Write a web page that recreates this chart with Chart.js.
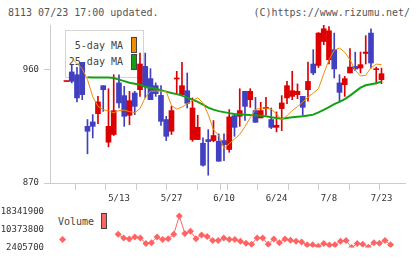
<!DOCTYPE html>
<html>
<head>
<meta charset="utf-8">
<script src="https://cdn.jsdelivr.net/npm/chart.js@4.4.1/dist/chart.umd.min.js"></script>
<style>
  html, body { margin: 0; padding: 0; background: #fff; }
  #wrap { position: relative; width: 420px; height: 259px; overflow: hidden;
          font-family: "DejaVu Sans Mono", monospace; color: #555; }
  .txt { position: absolute; font-size: 10px; line-height: 12px; white-space: pre; }
  .box { position: absolute; left: 65px; top: 30px; width: 77px; height: 46px;
         border: 1px solid #d4d4d4; background: #fff; }
  .sw { position: absolute; width: 4px; height: 14px; border: 1px solid #444; }
  canvas { position: absolute; left: 0; }
</style>
</head>
<body>
<div id="wrap">
  <div class="txt" style="left:8px; top:7px;">8113 07/23 17:00 updated.</div>
  <div class="txt" style="right:10px; top:7px;">(C)https://www.rizumu.net/</div>

  <!-- price legend sits under the canvas, candles paint over it -->
  <div class="box"></div>
  <div class="txt" style="right:297px; top:40px; color:#444;">5-day MA</div>
  <div class="txt" style="right:297px; top:56px; color:#444;">25-day MA</div>
  <div class="sw" style="left:131px; top:37px; background:#f28c00;"></div>
  <div class="sw" style="left:131px; top:54px; background:#14a014;"></div>

  <div class="txt" style="left:58px; top:216px; color:#444;">Volume</div>
  <div class="sw" style="left:101px; top:213px; background:#ff6464;"></div>

  <canvas id="price" width="420" height="205" style="top:0;"></canvas>
  <canvas id="vol" width="420" height="59" style="top:200px;"></canvas>
</div>
<script>
// trading days shown (2024)
const dates = [
  '4/24','4/25','4/26','4/30','5/1','5/2','5/7','5/8','5/9','5/10',
  '5/13','5/14','5/15','5/16','5/17','5/20','5/21','5/22','5/23','5/24',
  '5/27','5/28','5/29','5/30','5/31','6/3','6/4','6/5','6/6','6/7',
  '6/10','6/11','6/12','6/13','6/14','6/17','6/18','6/19','6/20','6/21',
  '6/24','6/25','6/26','6/27','6/28','7/1','7/2','7/3','7/4','7/5',
  '7/8','7/9','7/10','7/11','7/12','7/16','7/17','7/18','7/19','7/22','7/23'
];
const tickDates = ['5/13','5/27','6/10','6/24','7/8','7/23'];

const opens = [
  950.6, 958.2, 956.0, 965.8, 915.0, 918.5, 925.1, 947.3, 902.4, 908.5,
  949.5, 939.4, 923.8, 941.5, 944.1, 962.6, 952.9, 947.3, 939.6, 920.4,
  911.1, 952.6, 940.2, 943.3, 904.5, 904.5, 901.6, 904.5, 903.7, 903.1,
  903.7, 896.6, 923.5, 923.0, 942.8, 936.2, 927.5, 921.7, 929.1, 920.4,
  914.2, 929.1, 937.6, 938.8, 940.2, 938.8, 944.1, 964.5, 963.4, 982.4,
  967.9, 975.9, 949.5, 948.1, 957.4, 962.6, 961.3, 972.9, 989.1, 960.0, 952.1
];
const highs = [
  950.6, 964.0, 961.8, 965.8, 920.4, 924.3, 938.8, 947.3, 944.9, 956.0,
  956.0, 946.8, 942.8, 942.8, 973.1, 973.2, 960.8, 949.5, 947.3, 923.0,
  930.9, 958.7, 965.8, 957.4, 937.6, 923.8, 905.8, 912.4, 919.6, 909.0,
  909.0, 928.3, 924.9, 944.9, 942.8, 944.9, 938.0, 934.1, 938.0, 929.6,
  926.5, 939.4, 950.7, 958.7, 948.7, 938.8, 966.1, 975.9, 989.5, 995.3,
  994.3, 989.1, 956.0, 954.7, 976.7, 974.0, 974.0, 987.0, 992.5, 962.1, 961.3
];
const lows = [
  950.6, 949.5, 934.4, 936.2, 893.2, 905.8, 917.2, 926.9, 898.7, 907.7,
  929.6, 915.0, 916.4, 924.3, 938.8, 937.6, 936.2, 938.8, 915.8, 903.7,
  908.5, 940.2, 940.2, 929.6, 903.1, 904.5, 883.3, 876.2, 902.7, 887.3,
  887.8, 894.4, 907.1, 915.0, 919.8, 930.1, 918.2, 921.7, 923.8, 913.2,
  910.6, 911.6, 933.0, 936.2, 937.0, 923.8, 934.9, 956.0, 961.8, 979.8,
  964.5, 953.4, 934.4, 938.8, 957.4, 959.2, 957.4, 964.5, 961.3, 948.7, 948.9
];
const closes = [
  950.6, 950.7, 937.6, 940.2, 911.1, 915.0, 934.4, 944.1, 915.0, 927.5,
  933.6, 923.0, 935.4, 930.9, 964.5, 946.8, 936.2, 941.0, 919.0, 907.1,
  927.5, 952.9, 947.3, 933.3, 929.6, 914.2, 884.1, 902.9, 907.7, 887.3,
  900.5, 922.5, 914.2, 927.5, 930.9, 942.8, 918.2, 927.5, 930.1, 914.2,
  915.8, 933.6, 947.3, 943.3, 942.8, 930.1, 950.7, 957.4, 989.1, 992.5,
  990.9, 960.6, 942.0, 952.9, 962.1, 960.6, 964.0, 974.0, 965.3, 960.5, 956.8
];
const ma5 = [
  null, 969.1, 964.8, 960.8, 952.1, 938.6, 930.9, 928.3, 927.1, 925.9,
  927.5, 927.9, 926.7, 925.9, 929.1, 937.8, 943.0, 943.0, 943.0, 942.6,
  931.5, 928.7, 930.3, 933.0, 935.4, 937.6, 933.8, 924.3, 912.4, 907.7,
  897.4, 901.3, 904.9, 908.5, 914.8, 921.9, 928.3, 929.6, 929.5, 928.7,
  924.9, 920.4, 923.5, 927.5, 930.7, 934.2, 938.2, 941.4, 944.9, 956.8,
  967.9, 975.5, 977.2, 973.9, 967.9, 959.6, 955.0, 955.5, 961.6, 964.4, 964.0
];
const ma25 = [
  null, null, null, null, 953.9, 953.8, 953.7, 953.7, 953.7, 953.4,
  952.1, 950.9, 949.7, 948.9, 948.1, 946.3, 945.7, 944.9, 943.7, 942.6,
  941.5, 940.6, 939.4, 937.8, 936.2, 934.4, 932.2, 929.9, 928.3, 927.1,
  926.3, 925.5, 924.9, 924.6, 924.3, 924.0, 923.8, 923.4, 923.0, 922.3,
  921.7, 921.0, 921.7, 922.2, 922.6, 923.0, 923.7, 924.3, 926.1, 928.1,
  930.3, 932.6, 934.5, 936.6, 939.4, 942.6, 945.7, 947.6, 948.5, 949.3, 950.5
];
const volume = [
  null, 5920000, null, null, null, null, null, null, null, null,
  null, 8230000, 6610000, 6210000, 7020000, 6610000, 4190000, 4590000, 7020000, 5920000,
  6330000, 8230000, 16320000, 8640000, 9570000, 6330000, 7950000, 7260000, 5520000, 5520000,
  6610000, 5920000, 5920000, 5240000, 4310000, 3900000, 6610000, 6610000, 3900000, 6210000,
  4590000, 6210000, 5640000, 5240000, 4830000, 3620000, 3620000, 2970000, 4190000, 3500000,
  3620000, 5240000, 5520000, 2450000, 4190000, 3900000, 2570000, 4590000, 4310000, 5520000, 3620000
];
const priceTicks = [870, 960];
const volumeTicks = [2405700, 10373800, 18341900];

Chart.defaults.font.family = '"DejaVu Sans Mono", monospace';
Chart.defaults.font.size = 9;
Chart.defaults.color = '#333';

const UP = '#dc0000', DOWN = '#4040c0';
const AXIS = '#cccccc';
const xMin = -1.26, xMax = 62.6;
const colors = opens.map((o, i) => closes[i] >= o ? UP : DOWN);
const pts = arr => arr.map((v, i) => ({ x: i, y: v }));

new Chart(document.getElementById('price'), {
  type: 'bar',
  data: {
    datasets: [
      { type: 'line', data: pts(ma5), borderColor: '#f28c00', borderWidth: 1,
        pointRadius: 0, tension: 0, order: 0 },
      { type: 'line', data: pts(ma25), borderColor: '#14a014', borderWidth: 2,
        pointRadius: 0, tension: 0, order: 1 },
      { data: dates.map((d, i) => ({ x: i, y: [opens[i], closes[i]] })),
        backgroundColor: colors, barThickness: 5, minBarLength: 1,
        grouped: false, order: 2 },
      { data: dates.map((d, i) => ({ x: i, y: [lows[i], highs[i]] })),
        backgroundColor: colors, barThickness: 1, grouped: false, order: 3 }
    ]
  },
  options: {
    responsive: false, animation: false, devicePixelRatio: 1,
    layout: { autoPadding: false, padding: { top: 25, right: 15, left: 0, bottom: 0 } },
    plugins: { legend: { display: false }, tooltip: { enabled: false } },
    scales: {
      x: {
        type: 'linear', min: xMin, max: xMax,
        afterBuildTicks: s => {
          const labs = tickDates.map(d => ({ value: dates.indexOf(d), lab: d }));
          const marks = [];
          for (let k = 0; k <= 11; k++) marks.push({ value: xMin + k * (xMax - xMin) / 11 });
          s.ticks = labs.concat(marks);
        },
        afterFit: s => { s.height = 22; },
        ticks: { autoSkip: false, maxRotation: 0, padding: 3,
                 callback: (v, i, t) => t[i].lab || '' },
        grid: { drawOnChartArea: false, tickLength: 7,
                tickColor: c => (c.tick && c.tick.lab) ? 'rgba(0,0,0,0)' : AXIS },
        border: { color: AXIS }
      },
      y: {
        min: 870, max: 995.5,
        afterBuildTicks: s => { s.ticks = priceTicks.map(v => ({ value: v })); },
        afterFit: s => { s.width = 50; },
        ticks: { padding: 5, callback: v => String(v) },
        grid: { drawOnChartArea: false, tickLength: 6, color: AXIS },
        border: { color: AXIS }
      }
    }
  }
});

new Chart(document.getElementById('vol'), {
  type: 'line',
  data: {
    datasets: [{
      data: pts(volume), borderColor: '#ff6464', borderWidth: 1,
      pointStyle: 'rectRot', pointRadius: 3.5, pointBorderWidth: 0,
      pointBackgroundColor: '#ff6464', tension: 0, spanGaps: false
    }]
  },
  options: {
    responsive: false, animation: false, devicePixelRatio: 1,
    layout: { autoPadding: false, padding: { top: 9, right: 15, left: 0, bottom: 10 } },
    plugins: { legend: { display: false }, tooltip: { enabled: false } },
    scales: {
      x: { type: 'linear', min: xMin, max: xMax, display: false },
      y: {
        min: volumeTicks[0], max: volumeTicks[2],
        afterBuildTicks: s => { s.ticks = volumeTicks.map(v => ({ value: v })); },
        afterFit: s => { s.width = 50; },
        ticks: { padding: 6, callback: v => String(v) },
        grid: { display: false, drawTicks: false },
        border: { display: false }
      }
    }
  }
});
</script>
</body>
</html>
